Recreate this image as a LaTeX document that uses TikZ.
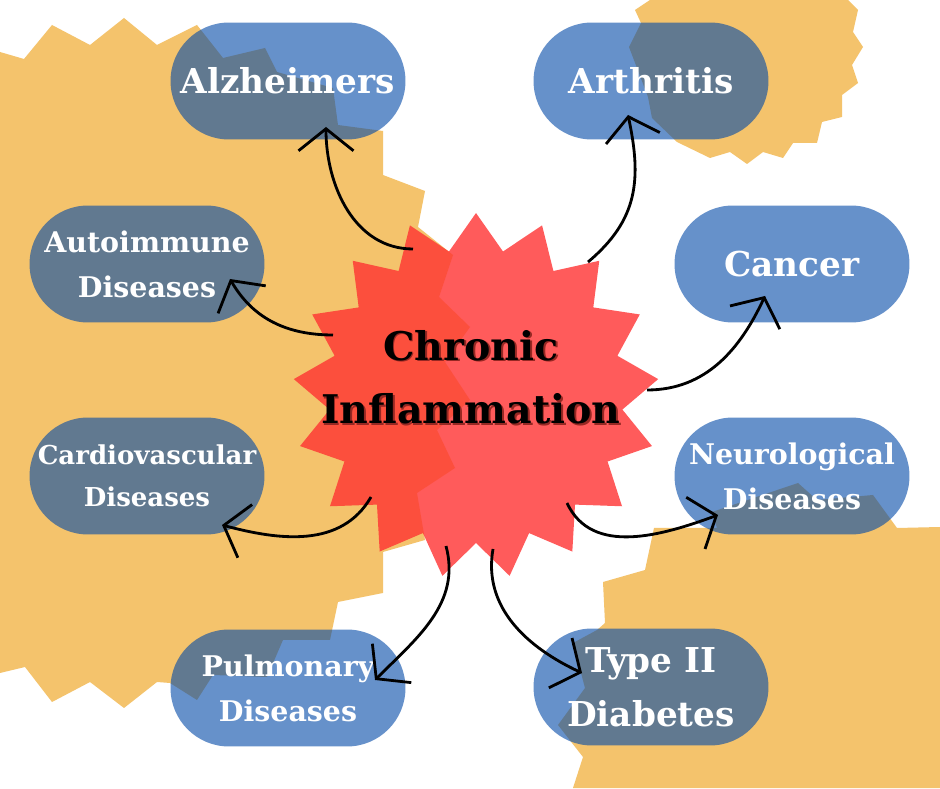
\documentclass[tikz,border=0pt]{standalone}
\usepackage{fontspec}
\setmainfont{DejaVu Serif}
\usetikzlibrary{arrows.meta,shapes.geometric}

\definecolor{sand}{RGB}{244,195,108}
\definecolor{pillblue}{RGB}{0,72,168}
\definecolor{flame}{RGB}{255,50,50}
\definecolor{flameshadow}{RGB}{150,40,35}

\newcommand\shadowed[1]{\rlap{\kern0.9pt\raisebox{-0.9pt}{\textcolor{flameshadow}{#1}}}#1}

\tikzset{
  pill/.style={rectangle, rounded corners=1.17cm, minimum width=4.7cm, minimum height=2.34cm,
    inner sep=0pt, fill=pillblue, fill opacity=0.6, text opacity=1, text=white, align=center},
  bigtext/.style={font=\bfseries\fontsize{19.5}{30.5}\selectfont},
  midtext/.style={font=\bfseries\fontsize{16.2}{25.5}\selectfont},
  smalltext/.style={font=\bfseries\fontsize{14.8}{24}\selectfont},
  link/.style={line width=1.6pt, -{Straight Barb[length=0.44cm,width=1.1cm]}}
}

\begin{document}
\begin{tikzpicture}[x=0.02cm,y=0.02cm]
  \useasboundingbox (0,0) rectangle (940,788);
  \fill[white] (0,0) rectangle (940,788);
  % background blots
  \fill[sand] (0,736) -- (24,729) -- (52,763) -- (90,743) -- (124,770) -- (157,743) -- (197,763)
    -- (223,730) -- (265,740) -- (277,716) -- (333,700) -- (338,663) -- (383,657) -- (383,613)
    -- (425,597) -- (418,561) -- (453,533) -- (439,491) -- (470,461) -- (445,426) -- (470,388)
    -- (437,358) -- (455,320) -- (417,295) -- (425,248) -- (383,236) -- (383,195) -- (338,186)
    -- (330,148) -- (283,148) -- (267,111) -- (213,113) -- (197,88) -- (170,105) -- (157,106)
    -- (124,80) -- (90,106) -- (52,86) -- (25,121) -- (0,115) -- cycle;
  \fill[sand] (650,788) -- (635,778) -- (641,765) -- (629,741) -- (648,691) -- (652,670) -- (677,646)
    -- (710,630) -- (730,636) -- (747,624) -- (763,636) -- (783,630) -- (793,645) -- (817,645)
    -- (822,666) -- (842,671) -- (842,693) -- (858,705) -- (852,723) -- (863,741) -- (853,756)
    -- (858,778) -- (848,788) -- cycle;
  \fill[sand] (654,260) -- (717,260) -- (712,276) -- (798,305) -- (817,288) -- (873,293) -- (897,260)
    -- (940,261) -- (940,0) -- (573,0) -- (583,31) -- (572,45) -- (558,63) -- (585,100) -- (573,145)
    -- (597,158) -- (605,165) -- (603,206) -- (645,218) -- cycle;
  % centre
  \node[star, star points=17, star point ratio=1.245, minimum size=7.32cm, inner sep=0pt,
    fill=flame, fill opacity=0.8] (flame) at (476,392) {};
  \node[font=\bfseries\fontsize{22.5}{36}\selectfont, align=center] (title) at (471,410)
    {\shadowed{Chronic}\\\shadowed{Inflammation}};
  % diseases
  \node[pill, bigtext] (alz) at (288,707) {Alzheimers};
  \node[pill, bigtext] (arth) at (651,707) {Arthritis};
  \node[pill, midtext] (auto) at (147,524) {Autoimmune\\Diseases};
  \node[pill, bigtext] (canc) at (792,524) {Cancer};
  \node[pill, smalltext] (card) at (147,312) {Cardiovascular\\Diseases};
  \node[pill, midtext] (neur) at (792,312) {Neurological\\Diseases};
  \node[pill, midtext] (pulm) at (288,100) {Pulmonary\\Diseases};
  \node[pill, bigtext] (type) at (651,101) {Type II\\Diabetes};
  % arrows
  \draw[link] ([shift={(-63,147)}]flame.center) to[out=180,in=-90] ([shift={(38,-46)}]alz.center);
  \draw[link] ([shift={(112,134)}]flame.center) to[out=40,in=-78,looseness=1.1] ([shift={(-23,-34)}]arth.center);
  \draw[link] ([shift={(-143,61)}]flame.center) to[out=180,in=-60] ([shift={(83,-15)}]auto.center);
  \draw[link] ([shift={(171,6)}]flame.center) to[out=0,in=-115] ([shift={(-27,-32)}]canc.center);
  \draw[link] ([shift={(-105,-101)}]flame.center) to[out=-120,in=-15] ([shift={(75,-49)}]card.center);
  \draw[link] ([shift={(91,-107)}]flame.center) to[out=-65,in=200] ([shift={(-74,-39)}]neur.center);
  \draw[link] ([shift={(-30,-150)}]flame.center) to[out=-75,in=45] ([shift={(87,8)}]pulm.center);
  \draw[link] ([shift={(17,-153)}]flame.center) to[out=-100,in=155] ([shift={(-69,14)}]type.center);
\end{tikzpicture}
\end{document}
